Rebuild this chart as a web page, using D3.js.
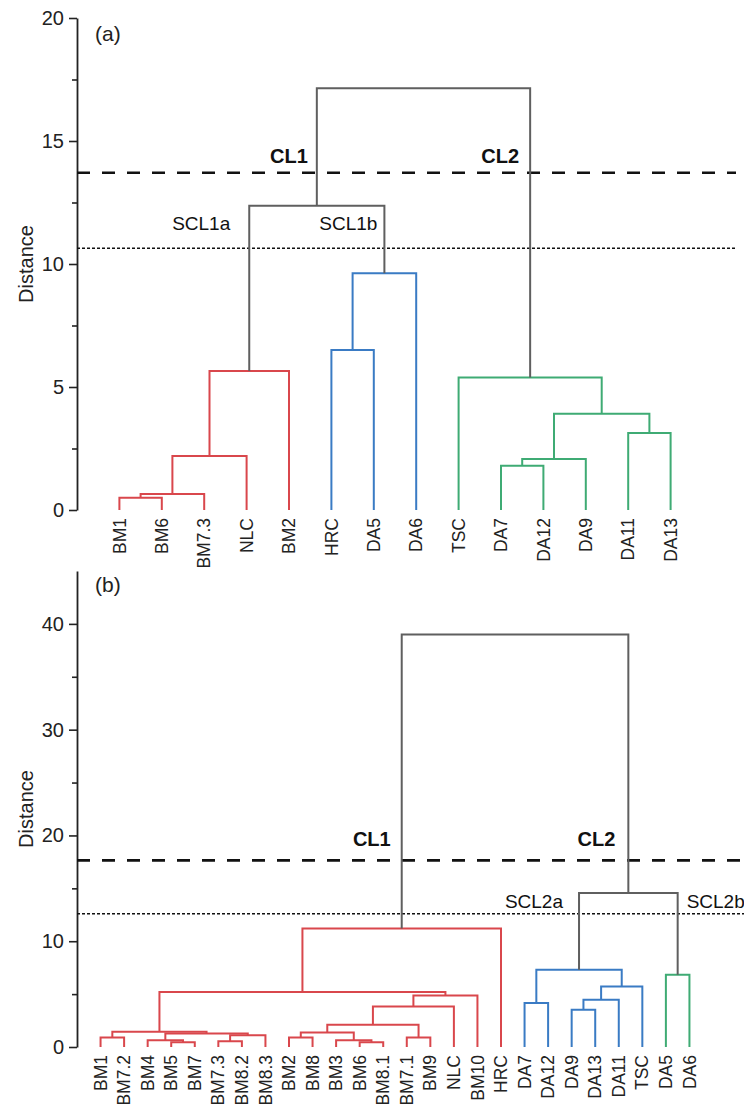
<!DOCTYPE html>
<html><head><meta charset="utf-8">
<script src="https://cdn.jsdelivr.net/npm/d3@7"></script>
<style>
html,body{margin:0;background:#fff}
svg{display:block;font-family:"Liberation Sans",Arial,Helvetica,sans-serif}
</style></head><body>
<svg id="chart" width="744" height="1104"></svg>
<script>
// ---- data (a) ----
const leavesA = ["BM1","BM6","BM7.3","NLC","BM2","HRC","DA5","DA6",
                 "TSC","DA7","DA12","DA9","DA11","DA13"];
// merges: [child, child, distance]; "mK" points at merge K
const mergesA = [
  ["BM1","BM6",0.50], ["m0","BM7.3",0.65], ["m1","NLC",2.20], ["m2","BM2",5.65],
  ["HRC","DA5",6.50], ["m4","DA6",9.62], ["m3","m5",12.37],
  ["DA7","DA12",1.80], ["m7","DA9",2.07], ["DA11","DA13",3.13], ["m8","m9",3.91],
  ["TSC","m10",5.39], ["m6","m11",17.14]
];
const groupsA = ["r","r","r","r","b","b","k","g","g","g","g","g","k"];
const cutsA = [13.71, 10.64];
const ticksA = [0,5,10,15,20], minorA = [2.5,7.5,12.5,17.5];

// ---- data (b) ----
const leavesB = ["BM1","BM7.2","BM4","BM5","BM7","BM7.3","BM8.2","BM8.3","BM2","BM8",
                 "BM3","BM6","BM8.1","BM7.1","BM9","NLC","BM10","HRC",
                 "DA7","DA12","DA9","DA13","DA11","TSC","DA5","DA6"];
const mergesB = [
  ["BM1","BM7.2",0.90], ["BM5","BM7",0.45], ["BM4","m1",0.63], ["BM7.3","BM8.2",0.55],
  ["m3","BM8.3",1.10], ["m2","m4",1.27], ["m0","m5",1.45],
  ["BM2","BM8",0.90], ["BM6","BM8.1",0.45], ["BM3","m8",0.63], ["m7","m9",1.38],
  ["BM7.1","BM9",0.90], ["m10","m11",2.10], ["m12","NLC",3.84], ["m13","BM10",4.88],
  ["m6","m14",5.20], ["m15","HRC",11.20],
  ["DA7","DA12",4.16], ["DA9","DA13",3.53], ["m18","DA11",4.47], ["m19","TSC",5.73],
  ["m17","m20",7.30], ["DA5","DA6",6.83], ["m21","m22",14.55], ["m16","m23",39.0]
];
const groupsB = ["r","r","r","r","r","r","r","r","r","r","r","r","r","r","r","r","r",
                 "b","b","b","b","b","g","k","k"];
const cutsB = [17.64, 12.6];
const ticksB = [0,10,20,30,40], minorB = [5,15,25,35];

const COLOR = {r:"#d9474c", b:"#3a7bc4", g:"#3fab74", k:"#5f5f5f"};
const INK = "#222";

const svg = d3.select("#chart");

function drawPanel(o) {
  const g = svg.append("g");
  const x = d3.scalePoint().domain(o.leaves).range([77, 713]).padding(1);
  const y = d3.scaleLinear().domain(o.ydom).range(o.yrange);

  // axis: labelled major ticks + short minor ticks
  g.append("g").attr("transform", "translate(77,0)")
    .call(d3.axisLeft(y).tickValues(o.ticks).tickSize(8).tickSizeOuter(0).tickPadding(5))
    .call(a => a.select(".domain").attr("stroke", INK).attr("stroke-width", 1.8))
    .call(a => a.selectAll(".tick line").attr("stroke", INK).attr("stroke-width", 1.6))
    .call(a => a.selectAll("text").attr("fill", INK).style("font-size", "20px")
      .style("font-family", "'Liberation Sans',Arial,sans-serif"));
  g.append("g").attr("transform", "translate(77,0)")
    .call(d3.axisLeft(y).tickValues(o.minor).tickSize(5).tickSizeOuter(0).tickFormat(""))
    .call(a => a.select(".domain").remove())
    .call(a => a.selectAll(".tick line").attr("stroke", INK).attr("stroke-width", 1.6));

  g.append("text").attr("transform", `translate(33,${(o.yrange[0] + o.yrange[1]) / 2}) rotate(-90)`)
    .attr("text-anchor", "middle").attr("fill", INK).style("font-size", "20px").text("Distance");
  g.append("text").attr("x", 95).attr("y", o.tagY).attr("fill", INK)
    .style("font-size", "21px").text(o.tag);

  // cut lines
  g.append("line").attr("x1", 77).attr("x2", o.lineEnd)
    .attr("y1", y(o.cuts[0])).attr("y2", y(o.cuts[0]))
    .attr("stroke", "#111").attr("stroke-width", 2.6).attr("stroke-dasharray", "13,12");
  g.append("line").attr("x1", 77).attr("x2", o.lineEnd)
    .attr("y1", y(o.cuts[1])).attr("y2", y(o.cuts[1]))
    .attr("stroke", "#111").attr("stroke-width", 1.4).attr("stroke-dasharray", "3,2");

  // dendrogram links
  const pos = {};
  o.leaves.forEach(l => pos[l] = {x: x(l), h: 0});
  const links = o.merges.map((m, k) => {
    const a = pos[m[0]], b = pos[m[1]];
    pos["m" + k] = {x: (a.x + b.x) / 2, h: m[2]};
    return {d: `M${a.x},${y(a.h)}V${y(m[2])}H${b.x}V${y(b.h)}`, c: COLOR[o.groups[k]]};
  });
  g.append("g").selectAll("path").data(links).join("path")
    .attr("d", l => l.d).attr("fill", "none").attr("stroke", l => l.c)
    .attr("stroke-width", 2).attr("stroke-linejoin", "miter");

  // leaf labels
  g.append("g").selectAll("text").data(o.leaves).join("text")
    .attr("transform", l => `translate(${x(l)},${y(0) + 8}) rotate(-90)`)
    .attr("dy", "0.35em").attr("text-anchor", "end").attr("fill", INK)
    .style("font-size", "17.5px").text(l => l);

  // cluster annotations
  o.notes.forEach(n => {
    g.append("text").attr("x", pos[n.node].x + n.dx).attr("y", y(o.cuts[n.cut]) + n.dy)
      .attr("text-anchor", n.anchor).attr("fill", "#111")
      .style("font-size", n.bold ? "20px" : "19px").style("font-weight", n.bold ? "bold" : "normal")
      .text(n.text);
  });
}

drawPanel({
  leaves: leavesA, merges: mergesA, groups: groupsA, cuts: cutsA,
  ticks: ticksA, minor: minorA, ydom: [0, 20], yrange: [510, 18],
  tag: "(a)", tagY: 41, lineEnd: 736,
  notes: [
    {text: "CL1", node: "m6", dx: -9, cut: 0, dy: -10, anchor: "end", bold: true},
    {text: "CL2", node: "m11", dx: -11, cut: 0, dy: -10, anchor: "end", bold: true},
    {text: "SCL1a", node: "m3", dx: -19, cut: 1, dy: -18, anchor: "end"},
    {text: "SCL1b", node: "m5", dx: -7, cut: 1, dy: -18, anchor: "end"}
  ]
});
drawPanel({
  leaves: leavesB, merges: mergesB, groups: groupsB, cuts: cutsB,
  ticks: ticksB, minor: minorB, ydom: [0, 45], yrange: [1047, 571],
  tag: "(b)", tagY: 592, lineEnd: 744,
  notes: [
    {text: "CL1", node: "m16", dx: -11, cut: 0, dy: -14, anchor: "end", bold: true},
    {text: "CL2", node: "m23", dx: -13, cut: 0, dy: -14, anchor: "end", bold: true},
    {text: "SCL2a", node: "m21", dx: -16, cut: 1, dy: -6, anchor: "end"},
    {text: "SCL2b", node: "m22", dx: 9, cut: 1, dy: -6, anchor: "start"}
  ]
});
</script>
</body></html>
